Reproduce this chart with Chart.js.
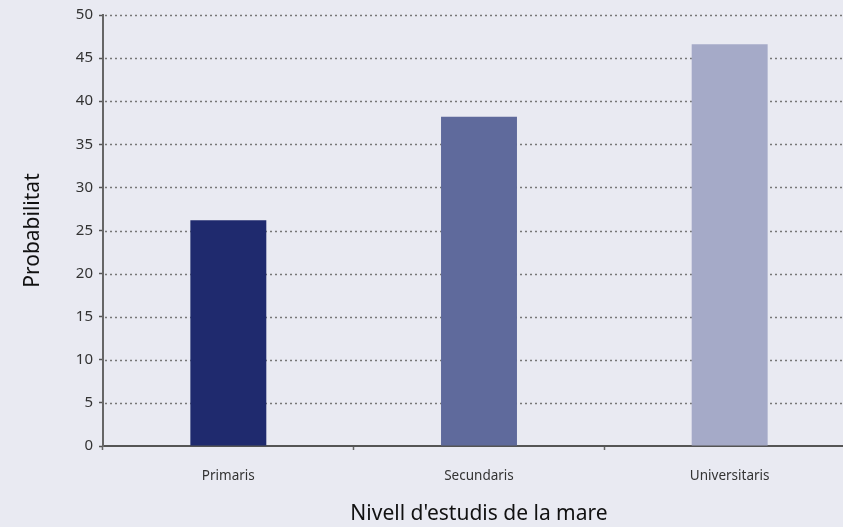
<!DOCTYPE html>
<html>
<head>
<meta charset="utf-8">
<script src="https://cdn.jsdelivr.net/npm/chart.js@4.4.1/dist/chart.umd.min.js"></script>
<style>
  html, body { margin: 0; padding: 0; background: #e9eaf2; overflow: hidden; }
  #wrap { position: absolute; left: 0; top: 0; width: 855px; height: 527px; }
</style>
</head>
<body>
<div id="wrap"><canvas id="chart"></canvas></div>
<script>
const categories = ["Primaris", "Secundaris", "Universitaris"];
const values = [26.2, 38.2, 46.6];
const barColors = ["#1f2a6e", "#5f6a9c", "#a5aac8"];
const yTicks = [0, 5, 10, 15, 20, 25, 30, 35, 40, 45, 50];

const FONT = "'Noto Sans', 'Open Sans', sans-serif";

new Chart(document.getElementById("chart"), {
  type: "bar",
  data: {
    labels: categories,
    datasets: [{
      data: values,
      backgroundColor: barColors,
      borderWidth: 0,
      barPercentage: 0.303,
      categoryPercentage: 1,
    }],
  },
  options: {
    responsive: true,
    maintainAspectRatio: false,
    animation: false,
    layout: { padding: { top: 15, left: 20, right: 0, bottom: 0 } },
    plugins: { legend: { display: false }, tooltip: { enabled: false } },
    scales: {
      x: {
        offset: true,
        grid: {
          offset: true,
          drawOnChartArea: false,
          drawTicks: true,
          tickLength: 4,
          tickColor: "#666",
          tickWidth: 1.5,
        },
        border: { color: "#555", width: 2 },
        ticks: { color: "#333", font: { family: FONT, size: 13.5 }, padding: 18 },
        title: {
          display: true,
          text: "Nivell d'estudis de la mare",
          color: "#111",
          font: { family: FONT, size: 21 },
          padding: { top: 9, bottom: 0 },
        },
        afterFit: (s) => { s.height = 81; },
      },
      y: {
        min: 0,
        max: 50,
        afterBuildTicks: (s) => { s.ticks = yTicks.map((v) => ({ value: v })); },
        grid: {
          drawOnChartArea: false,
          tickLength: 4,
          tickColor: "#555",
          tickWidth: 1.5,
        },
        border: { color: "#666", width: 2 },
        ticks: { color: "#333", font: { family: FONT, size: 15 }, padding: 6 },
        title: {
          display: true,
          text: "Probabilitat",
          color: "#111",
          font: { family: FONT, size: 21 },
          padding: { top: 0, bottom: 0 },
        },
        afterFit: (s) => { s.width = 83; },
      },
    },
  },
  plugins: [{
    // dotted horizontal guides across the plot
    id: "dottedGrid",
    beforeDatasetsDraw(chart) {
      const { ctx, chartArea, scales } = chart;
      ctx.save();
      ctx.strokeStyle = "#777";
      ctx.lineWidth = 1.3;
      ctx.setLineDash([2, 3]);
      yTicks.slice(1).forEach((v) => {
        const y = Math.round(scales.y.getPixelForValue(v)) + 0.5;
        ctx.beginPath();
        ctx.moveTo(chartArea.left + 2, y);
        ctx.lineTo(chartArea.right, y);
        ctx.stroke();
      });
      ctx.restore();
    },
  }],
});
</script>
</body>
</html>
